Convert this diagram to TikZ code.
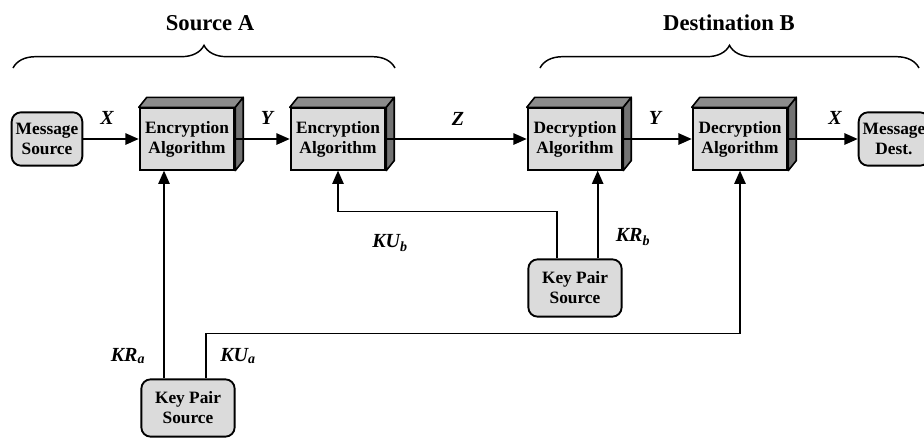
\documentclass[tikz,border=0pt]{standalone}
\usepackage{fontspec}
\setmainfont{Liberation Serif}
\usetikzlibrary{arrows.meta,calc,decorations.pathreplacing}

\begin{document}
\begin{tikzpicture}[x=0.75pt,y=-0.75pt,
  font=\fontsize{13}{15}\selectfont\bfseries,
  box/.style={draw,line width=1.4pt,fill=black!14,align=center,inner sep=1pt,
    minimum width=71pt,minimum height=46pt},
  rbox/.style={box,rounded corners=7pt,minimum width=53pt,minimum height=40pt},
  kbox/.style={box,rounded corners=7pt,minimum width=70pt,minimum height=43pt},
  arr/.style={line width=1.3pt,-{Triangle[length=10pt,width=8.5pt]}},
  lbl/.style={font=\fontsize{15}{17}\selectfont\bfseries\itshape},
  brc/.style={line width=1.1pt,decorate,decoration={brace,amplitude=17pt}}]
\useasboundingbox (0,0) rectangle (924,444);
\clip (0,0) rectangle (924,444);

% braces and headings
\draw[brc] (13,68) -- (395,68);
\node[font=\fontsize{17}{19}\selectfont\bfseries] (srcA) at (210,23) {Source A};
\draw[brc] (540,68) -- (919,68);
\node[font=\fontsize{17}{19}\selectfont\bfseries] (dstB) at (729,23) {Destination B};

% main row
\node[rbox] (msrc) at (47,139) {Message\\Source};
\node[box] (enc1) at (187,139) {Encryption\\Algorithm};
\node[box] (enc2) at (338,139) {Encryption\\Algorithm};
\node[box] (dec1) at (575,139) {Decryption\\Algorithm};
\node[box] (dec2) at (740,139) {Decryption\\Algorithm};
\node[rbox] (mdst) at (894,139) {Message\\Dest.};

% key pair sources
\node[kbox] (kpsB) at (575,288) {Key Pair\\Source};
\node[kbox] (kpsA) at (188,408) {Key Pair\\Source};

% 3d faces
\foreach \n in {enc1,enc2,dec1,dec2} {
  \filldraw[fill=black!45,line width=1.2pt,line join=round]
    (\n.north west) -- ++(8,-10) -- ($(\n.north east)+(8,-10)$) -- (\n.north east) -- cycle;
  \filldraw[fill=black!55,line width=1.2pt,line join=round]
    (\n.north east) -- ++(8,-10) -- ($(\n.south east)+(8,-10)$) -- (\n.south east) -- cycle;
}

% data flow
\draw[arr] (msrc) -- (enc1);
\draw[arr] (enc1) -- (enc2);
\draw[arr] (enc2) -- (dec1);
\draw[arr] (dec1) -- (dec2);
\draw[arr] (dec2) -- (mdst);
\node[lbl] (x1) at (107,118) {X};
\node[lbl] (y1) at (267,118) {Y};
\node[lbl] (z1) at (458,119) {Z};
\node[lbl] (y2) at (655,118) {Y};
\node[lbl] (x2) at (835,118) {X};

% keys
\draw[arr] ([xshift=-18pt]kpsA.north) -- ([xshift=-18pt]kpsA.north |- enc1.south);
\draw[arr] ([xshift=13.5pt]kpsA.north) -- ++(0,-45) -| (dec2.south);
\draw[arr] ([xshift=-13.5pt]kpsB.north) -- ++(0,-47) -| (enc2.south);
\draw[arr] ([xshift=17pt]kpsB.north) -- ([xshift=17pt]kpsB.north |- dec1.south);
\node[lbl] (kra) at (128,356) {KR\textsubscript{a}};
\node[lbl] (kua) at (238,356) {KU\textsubscript{a}};
\node[lbl] (kub) at (390,243) {KU\textsubscript{b}};
\node[lbl] (krb) at (633,237) {KR\textsubscript{b}};
\end{tikzpicture}
\end{document}
